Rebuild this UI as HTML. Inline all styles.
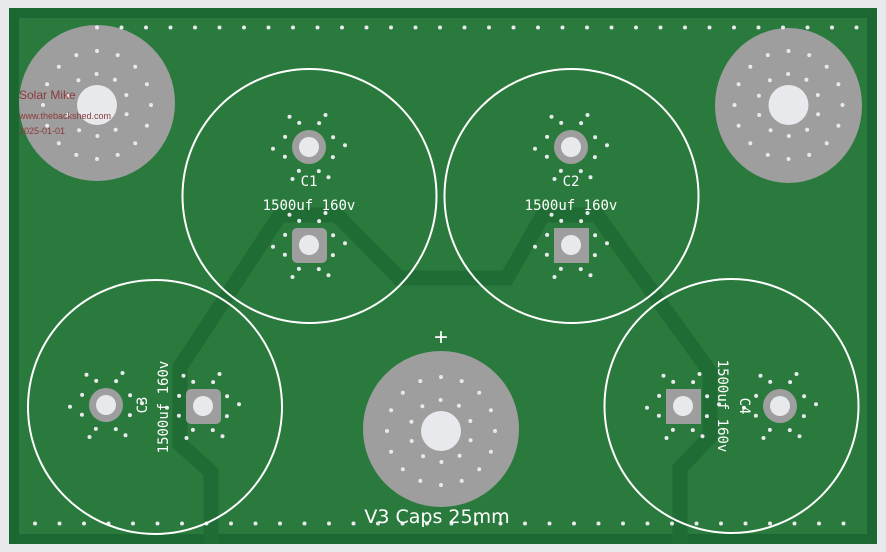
<!DOCTYPE html>
<html><head><meta charset="utf-8"><style>
html,body{margin:0;padding:0;background:#e8e9ec;}
svg{display:block}
.t{font-family:"DejaVu Sans Mono","Liberation Mono",monospace;fill:#fff;font-size:14px}
</style></head><body>
<svg id="s" width="886" height="552" viewBox="0 0 886 552" xmlns="http://www.w3.org/2000/svg">
<rect x="0" y="0" width="886" height="552" fill="#e8e9ec"/>
<rect x="9" y="8" width="868" height="536" fill="#1c6832"/>
<rect x="19" y="18" width="848" height="516" fill="#2b7a3d"/>
<g fill="none" stroke="#1f6c34" stroke-width="15" stroke-linejoin="miter">
<polyline points="211,544 211,472 180,444 180,367 280,215 337,215 399,278 507,278 543,215 597,215 710,372 710,437 680,468 680,544"/>
</g>
<g fill="#9e9e9e">
<ellipse cx="97" cy="103" rx="78" ry="78"/>
<ellipse cx="788.5" cy="105.5" rx="73.5" ry="77.5"/>
<ellipse cx="441" cy="429" rx="78" ry="78"/>
<circle cx="309" cy="147" r="17"/>
<rect x="292" y="228" width="35" height="35" rx="5"/>
<circle cx="571" cy="147" r="17"/>
<rect x="554" y="228" width="35" height="35"/>
<circle cx="106" cy="405" r="17"/>
<rect x="186" y="389" width="35" height="35" rx="5"/>
<rect x="666" y="389" width="35" height="35"/>
<circle cx="780" cy="406" r="17"/>
</g>
<g fill="#e8e9ec">
<circle cx="97" cy="105" r="20"/>
<circle cx="788.5" cy="105" r="20"/>
<circle cx="441" cy="431" r="20"/>
<circle cx="309" cy="147" r="10"/>
<circle cx="309" cy="245" r="10"/>
<circle cx="571" cy="147" r="10"/>
<circle cx="571" cy="245" r="10"/>
<circle cx="106" cy="405" r="10"/>
<circle cx="203" cy="406" r="10"/>
<circle cx="683" cy="406" r="10"/>
<circle cx="780" cy="406" r="10"/>
</g>
<g id="dots" fill="#e8e9ec"></g>
<g fill="none" stroke="#fff" stroke-width="2">
<circle cx="309.5" cy="196" r="127"/>
<circle cx="571.5" cy="196" r="127"/>
<circle cx="155" cy="407" r="127"/>
<circle cx="731.5" cy="406" r="127"/>
</g>
<g font-family="Liberation Sans, sans-serif" fill="#8a3a3a">
<text x="19" y="99" font-size="12">Solar Mike</text>
<text x="19" y="119" font-size="9">www.thebackshed.com</text>
<text x="19" y="134" font-size="9">2025-01-01</text>
</g>
<text class="t" x="309" y="186" text-anchor="middle">C1</text>
<text class="t" x="309" y="210" text-anchor="middle">1500uf 160v</text>
<text class="t" x="571" y="186" text-anchor="middle">C2</text>
<text class="t" x="571" y="210" text-anchor="middle">1500uf 160v</text>
<text class="t" transform="translate(168,407) rotate(-90)" text-anchor="middle">1500uf 160v</text>
<text class="t" transform="translate(147,405) rotate(-90)" text-anchor="middle">C3</text>
<text class="t" transform="translate(718,406) rotate(90)" text-anchor="middle">1500uf 160v</text>
<text class="t" transform="translate(740,406) rotate(90)" text-anchor="middle">C4</text>
<text x="441" y="345" text-anchor="middle" fill="#fff" font-family="Liberation Sans, sans-serif" font-size="24">+</text>
<text x="437" y="523" text-anchor="middle" fill="#fff" font-family="DejaVu Sans, sans-serif" font-size="19">V3 Caps 25mm</text>
</svg>
<script>
(function(){
var g=document.getElementById('dots'),h='';
function d(x,y){h+='<circle cx="'+x.toFixed(1)+'" cy="'+y.toFixed(1)+'" r="2"/>';}
for(var x=97;x<866;x+=24.5)d(x,27.5);
for(var x=35;x<866;x+=24.5)d(x,523.5);
function ring(cx,cy,r,n,off){for(var i=0;i<n;i++){var a=off+i*2*Math.PI/n;d(cx+r*Math.cos(a),cy+r*Math.sin(a));}}
[[97,105],[788.5,105],[441,431]].forEach(function(c){ring(c[0],c[1],54,16,0);ring(c[0],c[1],31,10,0.3);});
[[309,147],[571,147],[106,405],[780,406],[309,245],[571,245],[203,406],[683,406]].forEach(function(c){ring(c[0],c[1],26,8,0.4);ring(c[0],c[1],36,6,1.0);});
g.innerHTML=h;
})();
</script>
</body></html>
